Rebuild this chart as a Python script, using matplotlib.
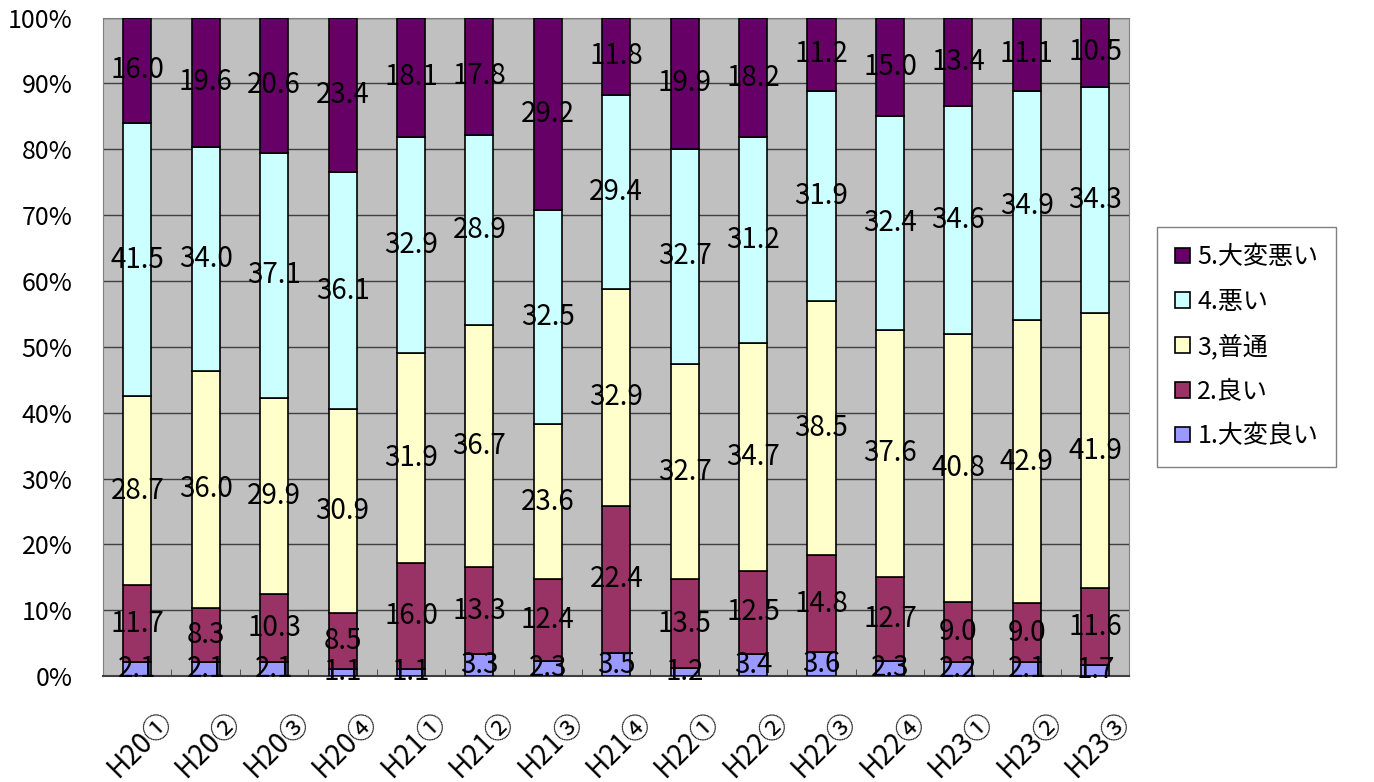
import numpy as np
import matplotlib.pyplot as plt
import matplotlib.transforms as mtransforms

plt.rcParams['font.family'] = ['Noto Sans CJK JP', 'DejaVu Sans']

periods = ['H20①', 'H20②', 'H20③', 'H20④', 'H21①', 'H21②', 'H21③', 'H21④',
           'H22①', 'H22②', 'H22③', 'H22④', 'H23①', 'H23②', 'H23③']

very_good = [2.1, 2.1, 2.1, 1.1, 1.1, 3.3, 2.3, 3.5, 1.2, 3.4, 3.6, 2.3, 2.2, 2.1, 1.7]
good = [11.7, 8.3, 10.3, 8.5, 16.0, 13.3, 12.4, 22.4, 13.5, 12.5, 14.8, 12.7, 9.0, 9.0, 11.6]
normal = [28.7, 36.0, 29.9, 30.9, 31.9, 36.7, 23.6, 32.9, 32.7, 34.7, 38.5, 37.6, 40.8, 42.9, 41.9]
bad = [41.5, 34.0, 37.1, 36.1, 32.9, 28.9, 32.5, 29.4, 32.7, 31.2, 31.9, 32.4, 34.6, 34.9, 34.3]
very_bad = [16.0, 19.6, 20.6, 23.4, 18.1, 17.8, 29.2, 11.8, 19.9, 18.2, 11.2, 15.0, 13.4, 11.1, 10.5]

series = [
    ('1.大変良い', very_good, '#9999FF'),
    ('2.良い', good, '#993366'),
    ('3,普通', normal, '#FFFFCC'),
    ('4.悪い', bad, '#CCFFFF'),
    ('5.大変悪い', very_bad, '#660066'),
]

fig = plt.figure(figsize=(13.74, 7.82), dpi=100)
ax = fig.add_axes([0.075, 0.1355, 0.747, 0.842])
ax.set_facecolor('#C0C0C0')

x = np.arange(len(periods))
bottom = np.zeros(len(periods))
for name, vals, col in series:
    vals = np.array(vals)
    b = ax.bar(x, vals, 0.41, bottom=bottom, color=col, edgecolor='black',
               linewidth=1.2, label=name, zorder=3)
    ax.bar_label(b, labels=[f'{v:.1f}' for v in vals], label_type='center',
                 fontsize=20, color='black', zorder=4)
    bottom += vals

ax.set_xlim(-0.5, len(periods) - 0.5)
ax.set_ylim(0, 100)
ax.set_yticks(np.arange(0, 101, 10))
ax.set_yticklabels([f'{v}%' for v in range(0, 101, 10)], fontsize=18)
ax.yaxis.grid(True, color='#404040', linewidth=1, zorder=1)
ax.tick_params(axis='y', length=0, pad=22)

ax.set_xticks(x)
ax.set_xticklabels(periods, rotation=45, ha='right', rotation_mode='anchor', fontsize=20)
ax.tick_params(axis='x', length=0, pad=22)
# shift rotated labels a little to the right, like the original
shift = mtransforms.ScaledTranslation(0.2, 0, fig.dpi_scale_trans)
for lab in ax.get_xticklabels():
    lab.set_transform(lab.get_transform() + shift)
ax.set_xticks(np.arange(len(periods) + 1) - 0.5, minor=True)
ax.tick_params(axis='x', which='minor', length=5, direction='in', color='#404040')

for side in ['top', 'left', 'right']:
    ax.spines[side].set_color('#808080')
ax.spines['bottom'].set_color('#404040')
ax.spines['bottom'].set_linewidth(1.5)

h, l = ax.get_legend_handles_labels()
leg = ax.legend(h[::-1], l[::-1], loc='center left', bbox_to_anchor=(1.015, 0.5),
                fontsize=18, frameon=True, fancybox=False, edgecolor='#606060',
                handlelength=0.6, handleheight=0.6, handletextpad=0.3,
                labelspacing=0.75, borderpad=0.7)

fig.savefig('out.png', dpi=100)
